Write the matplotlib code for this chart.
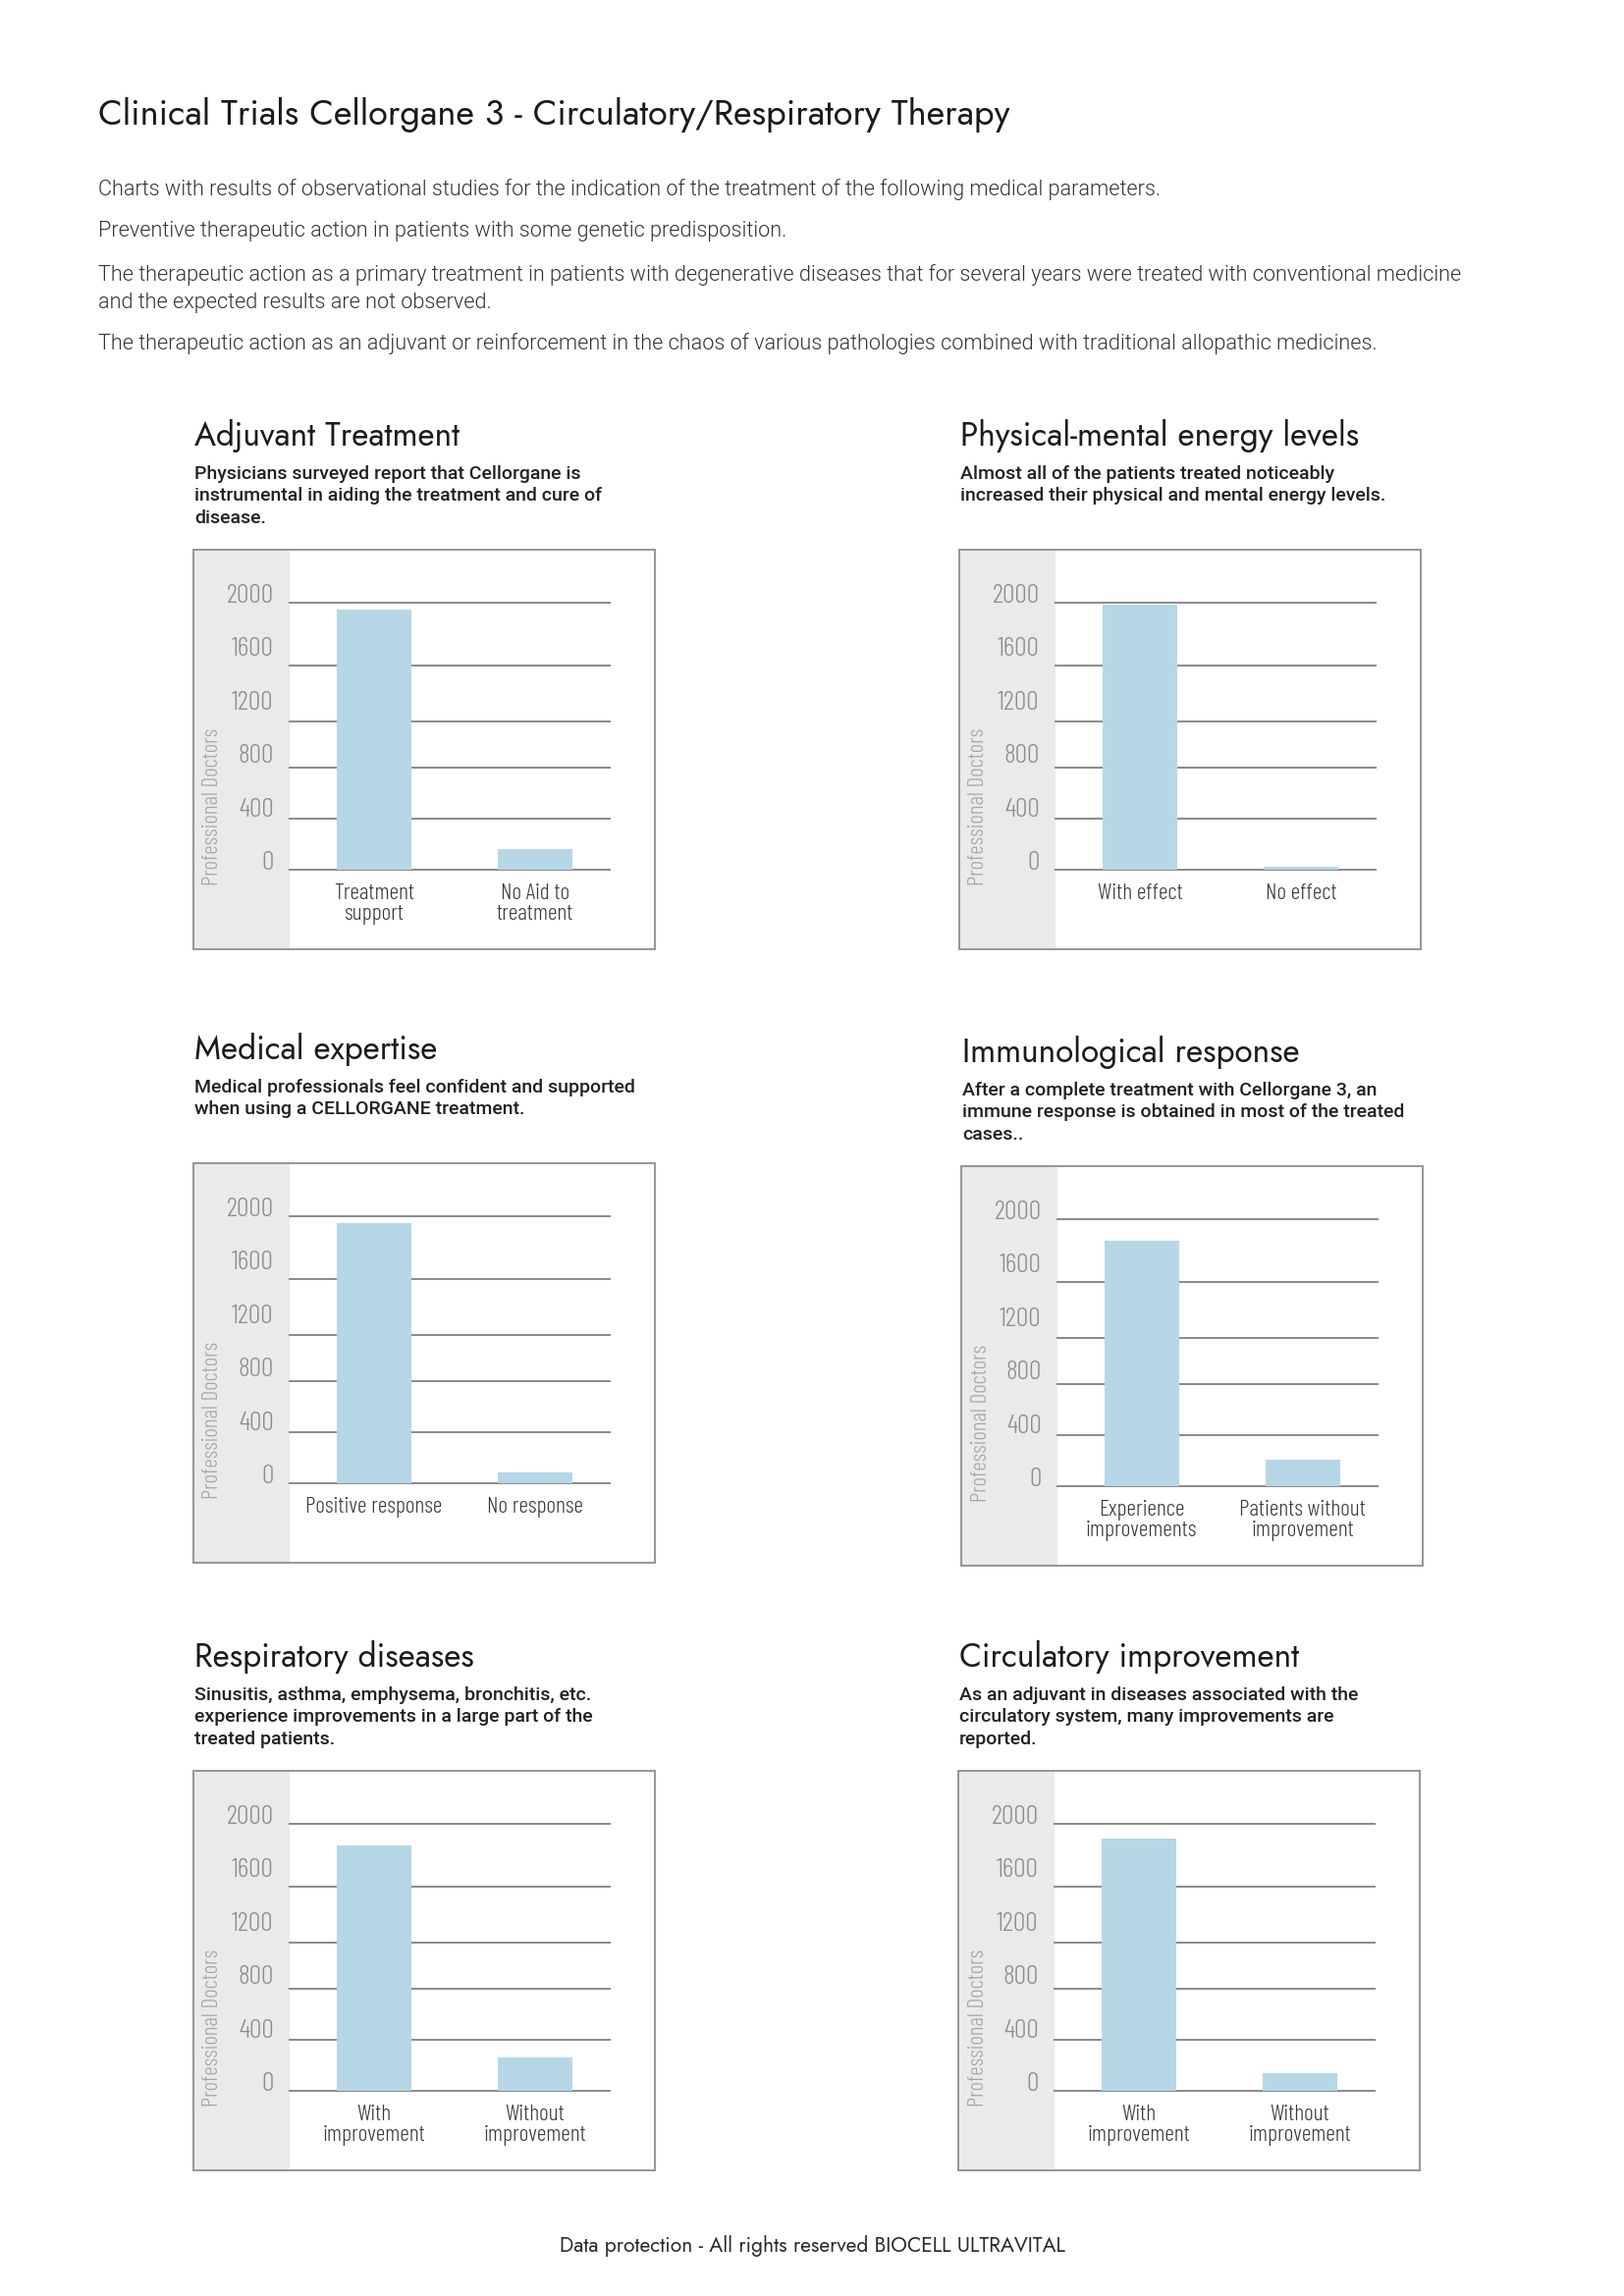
import os
import matplotlib
matplotlib.use("Agg")
import matplotlib.pyplot as plt
from matplotlib import font_manager as fm
from matplotlib.patches import Rectangle

# --- page text ---
page_title = "Clinical Trials Cellorgane 3 - Circulatory/Respiratory Therapy"
intro_lines = [
    "Charts with results of observational studies for the indication of the treatment of the following medical parameters.",
    "Preventive therapeutic action in patients with some genetic predisposition.",
    "The therapeutic action as a primary treatment in patients with degenerative diseases that for several years were treated with conventional medicine",
    "and the expected results are not observed.",
    "The therapeutic action as an adjuvant or reinforcement in the chaos of various pathologies combined with traditional allopathic medicines.",
]
footer = "Data protection - All rights reserved BIOCELL ULTRAVITAL"

# --- chart data ---
titles = ["Adjuvant Treatment", "Physical-mental energy levels", "Medical expertise",
          "Immunological response", "Respiratory diseases", "Circulatory improvement"]
subtitles = [
    ["Physicians surveyed report that Cellorgane is", "instrumental in aiding the treatment and cure of", "disease."],
    ["Almost all of the patients treated noticeably", "increased their physical and mental energy levels."],
    ["Medical professionals feel confident and supported", "when using a CELLORGANE treatment."],
    ["After a complete treatment with Cellorgane 3, an", "immune response is obtained in most of the treated", "cases.."],
    ["Sinusitis, asthma, emphysema, bronchitis, etc.", "experience improvements in a large part of the", "treated patients."],
    ["As an adjuvant in diseases associated with the", "circulatory system, many improvements are", "reported."],
]
categories = [
    ["Treatment\nsupport", "No Aid to\ntreatment"],
    ["With effect", "No effect"],
    ["Positive response", "No response"],
    ["Experience\nimprovements", "Patients without\nimprovement"],
    ["With\nimprovement", "Without\nimprovement"],
    ["With\nimprovement", "Without\nimprovement"],
]
values = [
    [1950, 155],
    [1985, 25],
    [1950, 80],
    [1835, 195],
    [1835, 250],
    [1890, 130],
]
y_ticks = [0, 400, 800, 1200, 1600, 2000]
grid_levels = [0, 383, 765, 1112, 1529, 2000]
y_label = "Professional Doctors"

# panel boxes in pixels: left, top, height
boxes = [(197, 560, 407), (977, 560, 407), (197, 1185, 407),
         (979, 1188, 407), (197, 1804, 407), (976, 1804, 407)]

W, H = 1654, 2339

FILES = {os.path.basename(f.fname): f for f in fm.fontManager.ttflist}


def by_file(*names, fallback=None):
    for n in names:
        if n in FILES:
            return fm.FontProperties(fname=FILES[n].fname)
    return fallback or fm.FontProperties(family="DejaVu Sans")


def pick(families, weights):
    for fam in families:
        for w in weights:
            for f in fm.fontManager.ttflist:
                fw = f.weight if isinstance(f.weight, int) else fm.weight_dict.get(f.weight, 400)
                if f.name == fam and fw == w and f.style == "normal" and f.stretch == "normal":
                    return fm.FontProperties(fname=f.fname)
    return None


light = pick(["Roboto", "Lato", "Open Sans"], [300, 400]) or fm.FontProperties(family="DejaVu Sans")
heading = by_file("Jost[wght].ttf", "Jost-Regular.ttf", "Questrial-Regular.ttf",
                  fallback=pick(["Lato"], [400]))
medium = pick(["Roboto", "Arimo", "Liberation Sans"], [500, 700]) or fm.FontProperties(family="DejaVu Sans")
narrow = by_file("BarlowCondensed-Light.ttf", "OpenSans-CondLight.ttf", "IBMPlexSansCondensed-Light.ttf",
                 fallback=light)


def fp(base, size):
    p = base.copy()
    p.set_size(size)
    return p


def fx(x):
    return x / W


def fy(y):
    return 1 - y / H


fig = plt.figure(figsize=(W / 100, H / 100), dpi=100)
fig.patch.set_facecolor("white")

fig.text(fx(100), fy(127), page_title, fontproperties=fp(heading, 26), color="#1c1a1b", va="baseline")
for txt, yc in zip(intro_lines, [193, 235, 280, 308, 350]):
    fig.text(fx(100), fy(yc), txt, fontproperties=fp(light, 15.6), color="#333333", va="center")

for i, (x0, y0, h) in enumerate(boxes):
    # title + subtitle
    fig.text(fx(x0 + 1), fy(y0 - 106), titles[i], fontproperties=fp(heading, 24),
             color="#1c1a1b", va="baseline")
    for k, line in enumerate(subtitles[i]):
        fig.text(fx(x0 + 1), fy(y0 - 77 + 22.3 * k), line, fontproperties=fp(medium, 14),
                 color="#231f20", va="center")

    # frame and grey band
    fig.add_artist(Rectangle((fx(x0), fy(y0 + h)), 98 / W, h / H, transform=fig.transFigure,
                             facecolor="#e9eaec", edgecolor="none", zorder=-2))
    fig.add_artist(Rectangle((fx(x0), fy(y0 + h)), 470 / W, h / H, transform=fig.transFigure,
                             facecolor="none", edgecolor="#8e8e8e", lw=1.3, zorder=-1))

    ax = fig.add_axes([fx(x0 + 97), fy(y0 + 326), 328 / W, 272 / H])
    ax.patch.set_visible(False)
    for s in ax.spines.values():
        s.set_visible(False)
    ax.set_xlim(-0.53, 1.47)
    ax.set_ylim(0, 2000)

    ax.hlines(grid_levels, -0.53, 1.47, color="#808080", lw=1.3, clip_on=False, zorder=1)
    ax.bar([0, 1], values[i], width=0.46, color="#b6d7e6", zorder=2)

    ax.set_yticks(y_ticks)
    ax.set_yticklabels([str(t) for t in y_ticks], fontproperties=fp(narrow, 20),
                       color="#8c8c8c", va="baseline")
    ax.set_xticks([0, 1])
    ax.set_xticklabels(categories[i], fontproperties=fp(narrow, 17), color="#3a3a3a",
                       linespacing=1.0)
    ax.tick_params(axis="y", length=0, pad=11)
    ax.tick_params(axis="x", length=0, pad=10)

    fig.text(fx(x0 + 20), fy(y0 + 326 - 64), y_label, rotation=90, ha="center", va="center",
             fontproperties=fp(narrow, 16.7), color="#a3a3a3")

fig.text(0.5, fy(2288), footer, fontproperties=fp(heading, 15.1), color="#2a2a2a", ha="center", va="center")

fig.savefig("out.png", dpi=100)
